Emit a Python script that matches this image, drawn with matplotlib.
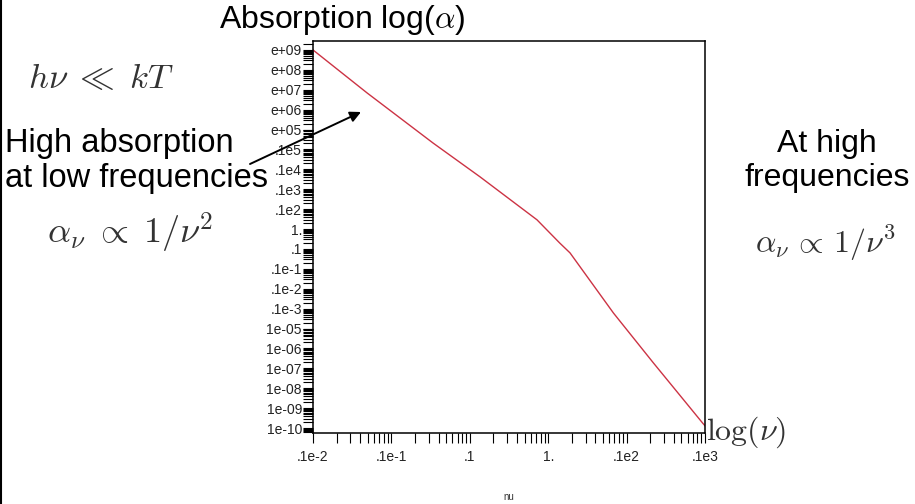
import matplotlib
matplotlib.use("Agg")
import matplotlib.pyplot as plt
from matplotlib.ticker import LogLocator, NullFormatter, FixedLocator, FixedFormatter
from matplotlib.lines import Line2D

plt.rcParams['font.family'] = ['Liberation Sans', 'DejaVu Sans']
plt.rcParams['mathtext.fontset'] = 'cm'

# data
nu = [1e-3, 4.9e-3, 3.4e-2, 0.135, 0.72, 1.4, 1.9, 6.8, 21.9, 93.0, 100.0]
alpha = [1e9, 6.9e6, 2.1e4, 4.2e2, 2.9, 0.2, 6.3e-2, 6.0e-5, 1.9e-7, 1.8e-10, 1.3e-10]

x_tick_values = [1e-3, 1e-2, 1e-1, 1.0, 1e1, 1e2]
x_tick_labels = ['.1e-2', '.1e-1', '.1', '1.', '.1e2', '.1e3']
y_tick_values = [1e9, 1e8, 1e7, 1e6, 1e5, 1e4, 1e3, 1e2, 1e1, 1.0, 1e-1, 1e-2,
                 1e-3, 1e-4, 1e-5, 1e-6, 1e-7, 1e-8, 1e-9, 1e-10]
y_tick_labels = ['e+09', 'e+08', 'e+07', 'e+06', 'e+05', '.1e5', '.1e4', '.1e3',
                 '.1e2', '1.', '.1', '.1e-1', '.1e-2', '.1e-3', '1e-05', '1e-06',
                 '1e-07', '1e-08', '1e-09', '1e-10']

W, H = 915, 504
fig = plt.figure(figsize=(W / 100, H / 100), dpi=100)
L, R, T, B = 313, 705, 41, 433
ax = fig.add_axes([L / W, 1 - B / H, (R - L) / W, (B - T) / H])

ax.plot(nu, alpha, color='#cc3344', lw=1.0)
ax.set_xscale('log')
ax.set_yscale('log')
ax.set_xlim(1e-3, 1e2)
ax.set_ylim(10 ** -10.25, 10 ** 9.45)

ax.xaxis.set_major_locator(FixedLocator(x_tick_values))
ax.xaxis.set_major_formatter(FixedFormatter(x_tick_labels))
ax.xaxis.set_minor_locator(LogLocator(base=10, subs=range(2, 10), numticks=50))
ax.xaxis.set_minor_formatter(NullFormatter())
ax.yaxis.set_major_locator(FixedLocator(y_tick_values))
ax.yaxis.set_major_formatter(FixedFormatter(y_tick_labels))
ax.yaxis.set_minor_locator(LogLocator(base=10, subs=range(2, 10), numticks=50))
ax.yaxis.set_minor_formatter(NullFormatter())

ax.tick_params(axis='y', which='both', direction='out', length=7, width=0.8,
               labelsize=10, pad=1, labelcolor='#222222')
ax.tick_params(axis='x', which='both', direction='out', length=7, width=0.8,
               labelsize=10, pad=5, labelcolor='#222222')
for s in ax.spines.values():
    s.set_linewidth(1.1)
    s.set_color('black')

# figure texts
fig.text(342 / W, 1 - 20 / H, r'Absorption log($\alpha$)', ha='center', va='center',
         fontsize=23)
fig.text(101 / W, 1 - 78 / H, r'$h\nu \;\ll\; kT$', ha='center', va='center',
         fontsize=25, color='#333333')
fig.text(5 / W, 1 - 161 / H, 'High absorption\nat low frequencies', ha='left',
         va='center', fontsize=23.5, linespacing=1.2)
fig.text(130 / W, 1 - 233 / H, r'$\alpha_\nu \;\propto\; 1/\nu^2$', ha='center',
         va='center', fontsize=26, color='#333333')
fig.text(827 / W, 1 - 161 / H, 'At high\nfrequencies', ha='center', va='center',
         fontsize=23, linespacing=1.2, multialignment='center')
fig.text(825 / W, 1 - 243 / H, r'$\alpha_\nu \,\propto\, 1/\nu^3$', ha='center',
         va='center', fontsize=23, color='#333333')
fig.text(706 / W, 1 - 432 / H, r'$\log(\nu)$', ha='left', va='center', fontsize=23,
         color='#333333')
fig.text(509 / W, 1 - 497 / H, 'nu', ha='center', va='center', fontsize=7,
         color='#333333')

fig.add_artist(Line2D([0.0015, 0.0015], [0, 1], transform=fig.transFigure,
                      color='black', lw=1.5))

ax.annotate('', xy=(361 / W, 1 - 112 / H), xytext=(250 / W, 1 - 164 / H),
            xycoords='figure fraction', textcoords='figure fraction',
            arrowprops=dict(arrowstyle='-|>', color='black', lw=1.4,
                            mutation_scale=16, shrinkA=0, shrinkB=0))

fig.savefig('out.png', dpi=100)
